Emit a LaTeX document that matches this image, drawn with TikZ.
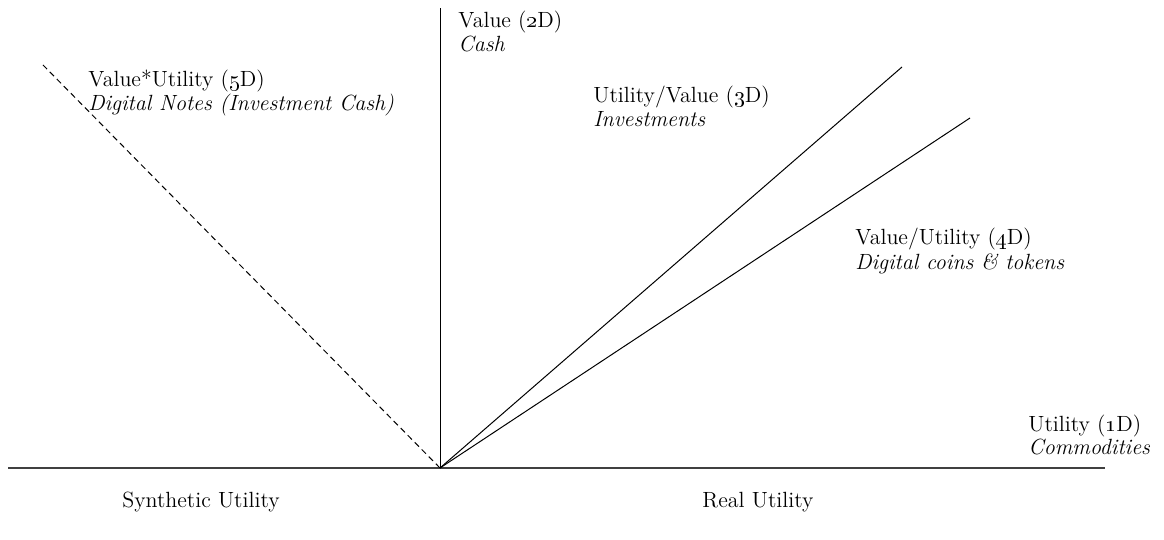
\documentclass[tikz,border=0pt]{standalone}
\usepackage{tikz}

\begin{document}
\begin{tikzpicture}
[x=0.5pt, y=0.5pt,
axis/.style ={draw=black!75, line width=0.7pt},
ray/.style ={draw=black, line width=0.5pt},
lbl/.style ={anchor=base west, inner sep=0pt, font=\fontsize{11}{12}\selectfont},
]
\useasboundingbox (0,0) rectangle (1164,540);

% origin and ends of the lines
\coordinate (o) at (440,72);
\coordinate (xl) at (8,72);
\coordinate (xr) at (1105,72);
\coordinate (e2) at (440,532);
\coordinate (e3) at (902,473);
\coordinate (e4) at (970,422);
\coordinate (e5) at (43,475);

\draw[axis] (xl) -- (xr);
\draw[ray] (o) -- (e2);
\draw[ray] (o) -- (e3);
\draw[ray] (o) -- (e4);
\draw[ray, dash pattern=on 3pt off 2pt] (o) -- (e5);

% labels
\node[lbl] (v5) at (88,453) {Value*Utility (\oldstylenums{5}D)};
\node[lbl] (n5) at (88,429) {\itshape Digital Notes (Investment Cash)};
\node[lbl] (v2) at (458,512) {Value (\oldstylenums{2}D)};
\node[lbl] (n2) at (458,488) {\itshape Cash};
\node[lbl] (v3) at (593,437) {Utility/Value (\oldstylenums{3}D)};
\node[lbl] (n3) at (593,413) {\itshape Investments};
\node[lbl] (v4) at (855,295) {Value/Utility (\oldstylenums{4}D)};
\node[lbl] (n4) at (855,270) {\itshape Digital coins \& tokens};
\node[lbl] (v1) at (1028,108) {Utility (\oldstylenums{1}D)};
\node[lbl] (n1) at (1028,85) {\itshape Commodities};
\node[lbl, anchor=base] (syn) at (201,32) {Synthetic Utility};
\node[lbl, anchor=base] (real) at (758,32) {Real Utility};
\end{tikzpicture}
\end{document}
